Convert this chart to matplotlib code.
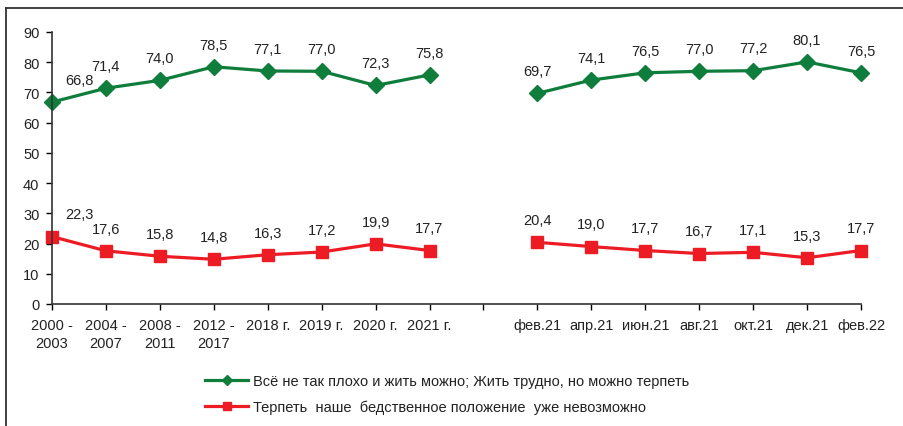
import numpy as np
import matplotlib
matplotlib.use('Agg')
import matplotlib.pyplot as plt
from matplotlib.lines import Line2D

plt.rcParams['font.family'] = ['Liberation Sans', 'DejaVu Sans']

####################################################################################

categories = ['2000 -\n2003', '2004 -\n2007', '2008 -\n2011', '2012 -\n2017',
              '2018 г.', '2019 г.', '2020 г.', '2021 г.', '',
              'фев.21', 'апр.21', 'июн.21', 'авг.21', 'окт.21', 'дек.21', 'фев.22']

green_values = [66.8, 71.4, 74.0, 78.5, 77.1, 77.0, 72.3, 75.8, np.nan,
                69.7, 74.1, 76.5, 77.0, 77.2, 80.1, 76.5]
red_values = [22.3, 17.6, 15.8, 14.8, 16.3, 17.2, 19.9, 17.7, np.nan,
              20.4, 19.0, 17.7, 16.7, 17.1, 15.3, 17.7]

green_label = 'Всё не так плохо и жить можно; Жить трудно, но можно терпеть'
red_label = 'Терпеть  наше  бедственное положение  уже невозможно'

GREEN_RGB = '#0F7D3B'
RED_RGB = '#ED1C24'
TEXT_RGB = '#222222'

####################################################################################

figure = plt.figure(figsize=(9.04, 4.27), dpi=100)
axes = figure.add_axes([52 / 904, 1 - 305 / 427, (861 - 52) / 904, (305 - 33) / 427])

x = np.arange(len(categories))

axes.plot(x, green_values, color=GREEN_RGB, linewidth=2.3, marker='D', markersize=8,
          label=green_label, clip_on=False)
axes.plot(x, red_values, color=RED_RGB, linewidth=2.3, marker='s', markersize=9,
          label=red_label, clip_on=False)

def add_labels(values):
    for i, v in enumerate(values):
        if np.isnan(v):
            continue
        dx = 20 if i == 0 else 0
        axes.annotate(f'{v:.1f}'.replace('.', ','), (i, v), xytext=(dx, 16),
                      textcoords='offset points', ha='center', va='center',
                      fontsize=10.5, color=TEXT_RGB)

add_labels(green_values)
add_labels(red_values)

axes.set_xlim(0, len(categories) - 1)
axes.set_ylim(0, 90)
axes.set_yticks(range(0, 91, 10))
axes.set_xticks(x)
axes.set_xticklabels(categories, fontsize=10.5, color=TEXT_RGB, linespacing=1.4)
axes.tick_params(axis='y', labelsize=10.5, labelcolor=TEXT_RGB, direction='out', length=4, width=1, pad=5)
axes.tick_params(axis='x', direction='out', length=4, width=1, pad=6)

for side in ['top', 'right']:
    axes.spines[side].set_visible(False)
for side in ['left', 'bottom']:
    axes.spines[side].set_color('#333333')
    axes.spines[side].set_linewidth(1.2)

legend_handles = [
    Line2D([], [], color=GREEN_RGB, linewidth=2.3, marker='D', markersize=5),
    Line2D([], [], color=RED_RGB, linewidth=2.3, marker='s', markersize=6),
]
figure.legend(legend_handles, [green_label, red_label], loc='center left',
              bbox_to_anchor=(192 / 904, 1 - 395 / 427), frameon=False,
              fontsize=10.5, handlelength=2.95, handletextpad=0.35,
              labelspacing=0.8, labelcolor=TEXT_RGB)

# outer frame: only top and left edges show in the crop
figure.add_artist(Line2D([6 / 904, 1.0], [1 - 9 / 427, 1 - 9 / 427],
                         transform=figure.transFigure, color='#333333', linewidth=1.3))
figure.add_artist(Line2D([6 / 904, 6 / 904], [0.0, 1 - 9 / 427],
                         transform=figure.transFigure, color='#333333', linewidth=1.3))

figure.savefig('out.png', dpi=100)
